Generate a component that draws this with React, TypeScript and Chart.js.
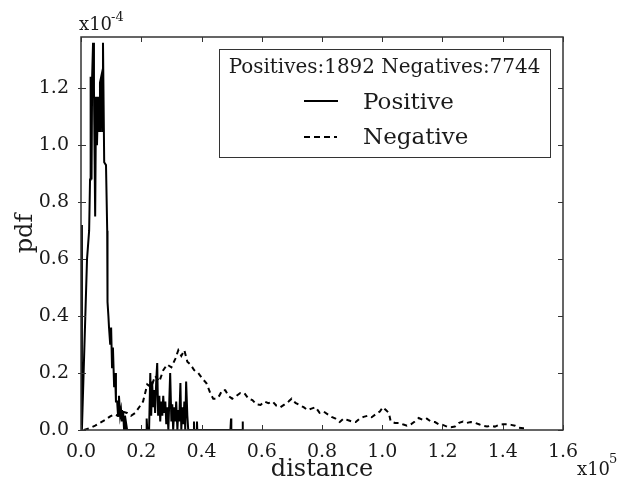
import React, { useEffect, useRef } from "react";
import { Chart, registerables } from "chart.js";

Chart.register(...registerables);

// distance in units of 1e5, pdf in units of 1e-4
const posX = [0.0, 0.003, 0.02, 0.027, 0.03, 0.032, 0.035, 0.037, 0.04, 0.043, 0.047, 0.05, 0.053, 0.057, 0.06, 0.063, 0.067, 0.07, 0.073, 0.077, 0.083, 0.087, 0.088, 0.091, 0.093, 0.097, 0.1, 0.103, 0.106, 0.11, 0.113, 0.116, 0.12, 0.123, 0.126, 0.13, 0.133, 0.136, 0.14, 0.143, 0.146, 0.153, 0.216, 0.218, 0.22, 0.226, 0.23, 0.233, 0.236, 0.24, 0.243, 0.246, 0.25, 0.253, 0.256, 0.26, 0.263, 0.266, 0.27, 0.273, 0.276, 0.28, 0.283, 0.286, 0.29, 0.293, 0.296, 0.3, 0.303, 0.306, 0.31, 0.313, 0.316, 0.32, 0.323, 0.326, 0.33, 0.333, 0.336, 0.34, 0.343, 0.346, 0.349, 0.353, 0.356, 0.373, 0.375, 0.376, 0.383, 0.385, 0.386, 0.496, 0.498, 0.499, 0.536, 0.537];
const posY = [0.72, 0.0, 0.6, 0.7, 0.88, 1.24, 0.88, 1.24, 1.36, 1.2, 0.75, 1.17, 1.0, 1.17, 1.05, 1.22, 1.24, 1.05, 1.36, 0.94, 0.93, 0.7, 0.45, 0.4, 0.36, 0.3, 0.36, 0.22, 0.29, 0.15, 0.2, 0.1, 0.1, 0.05, 0.12, 0.05, 0.07, 0.03, 0.06, 0.0, 0.05, 0.0, 0.0, 0.04, 0.0, 0.0, 0.2, 0.05, 0.17, 0.08, 0.14, 0.06, 0.18, 0.235, 0.05, 0.12, 0.03, 0.1, 0.05, 0.12, 0.06, 0.1, 0.02, 0.08, 0.0, 0.1, 0.2, 0.03, 0.09, 0.0, 0.08, 0.03, 0.1, 0.0, 0.07, 0.03, 0.165, 0.0, 0.08, 0.02, 0.1, 0.0, 0.17, 0.05, 0.0, 0.0, 0.03, 0.0, 0.0, 0.03, 0.0, 0.0, 0.04, 0.0, 0.0, 0.03];

const negX = [0.01, 0.03, 0.047, 0.063, 0.08, 0.097, 0.11, 0.123, 0.136, 0.153, 0.166, 0.18, 0.193, 0.206, 0.22, 0.233, 0.246, 0.26, 0.273, 0.286, 0.3, 0.313, 0.323, 0.333, 0.343, 0.353, 0.363, 0.376, 0.389, 0.403, 0.416, 0.429, 0.439, 0.449, 0.459, 0.469, 0.479, 0.489, 0.502, 0.516, 0.529, 0.542, 0.556, 0.569, 0.582, 0.596, 0.609, 0.622, 0.636, 0.649, 0.662, 0.676, 0.689, 0.699, 0.712, 0.725, 0.739, 0.752, 0.765, 0.779, 0.792, 0.805, 0.819, 0.832, 0.845, 0.859, 0.872, 0.885, 0.899, 0.912, 0.925, 0.938, 0.952, 0.965, 0.978, 0.992, 1.002, 1.012, 1.022, 1.028, 1.042, 1.055, 1.068, 1.082, 1.095, 1.108, 1.121, 1.135, 1.148, 1.161, 1.175, 1.188, 1.201, 1.215, 1.228, 1.241, 1.255, 1.268, 1.281, 1.294, 1.308, 1.321, 1.334, 1.348, 1.361, 1.374, 1.388, 1.401, 1.414, 1.428, 1.441, 1.454, 1.468, 1.481];
const negY = [0.0, 0.007, 0.015, 0.025, 0.035, 0.048, 0.055, 0.05, 0.065, 0.06, 0.05, 0.06, 0.08, 0.1, 0.16, 0.15, 0.19, 0.17, 0.21, 0.23, 0.22, 0.25, 0.28, 0.26, 0.28, 0.24, 0.23, 0.21, 0.2, 0.18, 0.165, 0.13, 0.11, 0.11, 0.12, 0.14, 0.14, 0.12, 0.11, 0.12, 0.13, 0.13, 0.11, 0.105, 0.09, 0.088, 0.1, 0.094, 0.1, 0.085, 0.08, 0.09, 0.1, 0.11, 0.095, 0.088, 0.08, 0.07, 0.075, 0.08, 0.06, 0.065, 0.055, 0.046, 0.04, 0.028, 0.04, 0.035, 0.03, 0.028, 0.04, 0.046, 0.05, 0.045, 0.055, 0.065, 0.08, 0.07, 0.06, 0.03, 0.025, 0.025, 0.02, 0.015, 0.02, 0.03, 0.042, 0.035, 0.04, 0.03, 0.028, 0.02, 0.018, 0.012, 0.01, 0.012, 0.025, 0.03, 0.025, 0.028, 0.025, 0.02, 0.015, 0.012, 0.015, 0.012, 0.018, 0.02, 0.02, 0.018, 0.015, 0.008, 0.006, 0.005];

const seriesNames = ["Positive", "Negative"];
const legendTitle = "Positives:1892 Negatives:7744";
const xTitle = "distance";
const yTitle = "pdf";
const xMin = 0;
const xMax = 1.6;
const yMin = 0;
const yMax = 1.38;
const tickStep = 0.2;

const SERIF = '"DejaVu Serif", serif';
const INK = "#1a1a1a";

const decorPlugin = {
  id: "decor",
  afterDatasetsDraw(chart: any) {
    const { ctx, chartArea: a, scales } = chart;
    ctx.save();
    // frame
    ctx.strokeStyle = "#333";
    ctx.lineWidth = 1.5;
    ctx.setLineDash([]);
    ctx.strokeRect(a.left, a.top, a.right - a.left, a.bottom - a.top);
    // inward ticks
    ctx.lineWidth = 1;
    const line = (x1: number, y1: number, x2: number, y2: number) => {
      ctx.beginPath();
      ctx.moveTo(x1, y1);
      ctx.lineTo(x2, y2);
      ctx.stroke();
    };
    scales.x.ticks.forEach((t: any) => {
      const px = Math.round(scales.x.getPixelForValue(t.value)) + 0.5;
      line(px, a.bottom, px, a.bottom - 5);
      line(px, a.top, px, a.top + 5);
    });
    scales.y.ticks.forEach((t: any) => {
      const py = Math.round(scales.y.getPixelForValue(t.value)) + 0.5;
      line(a.left, py, a.left + 5, py);
      line(a.left, py, a.left - 3, py);
      line(a.right, py, a.right - 5, py);
    });

    // legend box
    const bx = 219, by = 49, bw = 331, bh = 108;
    ctx.fillStyle = "#fff";
    ctx.fillRect(bx, by, bw, bh);
    ctx.strokeStyle = "#333";
    ctx.lineWidth = 1;
    ctx.strokeRect(bx + 0.5, by + 0.5, bw, bh);

    ctx.fillStyle = INK;
    ctx.textBaseline = "alphabetic";
    ctx.textAlign = "center";
    let fs = 16;
    ctx.font = `${fs}px ${SERIF}`;
    const w = ctx.measureText(legendTitle).width;
    fs = (fs * 312) / w;
    ctx.font = `${fs}px ${SERIF}`;
    ctx.fillText(legendTitle, bx + bw / 2, 73);

    ctx.textAlign = "left";
    ctx.font = `23px ${SERIF}`;
    ctx.fillText(seriesNames[0], 363, 109);
    ctx.fillText(seriesNames[1], 363, 144);

    ctx.strokeStyle = "#000";
    ctx.lineWidth = 2;
    line(304, 101, 338, 101);
    ctx.setLineDash([6, 4]);
    line(304, 137, 337, 137);
    ctx.setLineDash([]);

    // axis titles
    ctx.font = `24px ${SERIF}`;
    ctx.textAlign = "center";
    ctx.fillText(xTitle, (a.left + a.right) / 2, 476);
    ctx.save();
    ctx.translate(32, (a.top + a.bottom) / 2);
    ctx.rotate(-Math.PI / 2);
    ctx.fillText(yTitle, 0, 0);
    ctx.restore();

    // offset / multipliers
    ctx.textAlign = "left";
    ctx.font = `18px ${SERIF}`;
    ctx.fillText("x10", 79, 30);
    ctx.font = `13px ${SERIF}`;
    ctx.fillText("-4", 111, 21);
    ctx.font = `18px ${SERIF}`;
    ctx.fillText("x10", 577, 475);
    ctx.font = `13px ${SERIF}`;
    ctx.fillText("5", 609, 463);

    ctx.restore();
  },
};

export default function App() {
  const ref = useRef<HTMLCanvasElement | null>(null);
  useEffect(() => {
    if (!ref.current) return;
    const chart = new Chart(ref.current, {
      type: "scatter",
      data: {
        datasets: [
          {
            label: seriesNames[0],
            data: posX.map((x, i) => ({ x, y: posY[i] })),
            showLine: true,
            borderColor: "#000",
            borderWidth: 2,
            pointRadius: 0,
            tension: 0,
          },
          {
            label: seriesNames[1],
            data: negX.map((x, i) => ({ x, y: negY[i] })),
            showLine: true,
            borderColor: "#000",
            borderWidth: 2,
            borderDash: [5, 4],
            pointRadius: 0,
            tension: 0,
          },
        ],
      },
      options: {
        responsive: false,
        animation: false,
        layout: { padding: { top: 37, right: 65, left: 0, bottom: 0 } },
        plugins: { legend: { display: false }, tooltip: { enabled: false } },
        scales: {
          x: {
            type: "linear",
            min: xMin,
            max: xMax,
            grid: { display: false },
            border: { display: false },
            ticks: {
              stepSize: tickStep,
              color: INK,
              padding: 3,
              font: { family: SERIF, size: 19 },
              callback: (v: any) => Number(v).toFixed(1),
            },
            afterFit: (s: any) => {
              s.height = 52;
            },
          },
          y: {
            type: "linear",
            min: yMin,
            max: yMax,
            grid: { display: false },
            border: { display: false },
            ticks: {
              stepSize: tickStep,
              includeBounds: false,
              color: INK,
              padding: 4,
              font: { family: SERIF, size: 19 },
              callback: (v: any) => Number(v).toFixed(1),
            },
            afterFit: (s: any) => {
              s.width = 81;
            },
          },
        },
      },
      plugins: [decorPlugin],
    });
    return () => chart.destroy();
  }, []);
  return (
    <div style={{ position: "fixed", left: 0, top: 0, width: 628, height: 482, background: "#fff" }}>
      <canvas ref={ref} width={628} height={482} style={{ display: "block" }} />
    </div>
  );
}
